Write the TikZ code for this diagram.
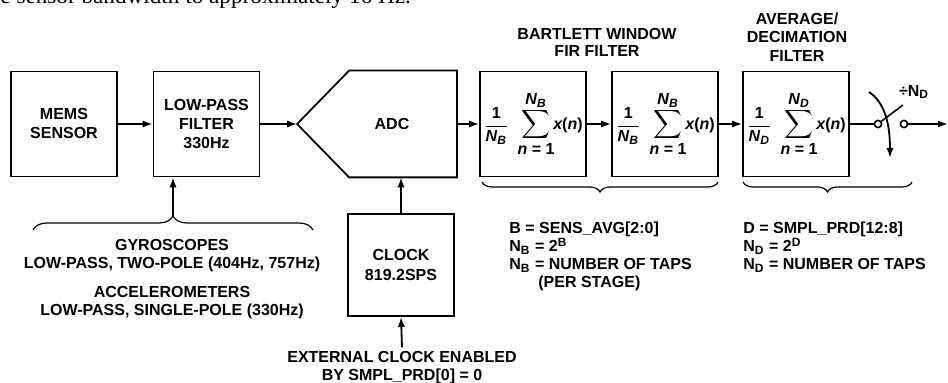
\documentclass[tikz,border=0pt]{standalone}
\usepackage{amsmath}
\usepackage{fontspec}
\setmainfont{Liberation Sans}
\newfontfamily\bodyserif{Liberation Serif}
\usetikzlibrary{arrows.meta,decorations.pathreplacing}

% 1/N sum x(n) block text
\newcommand{\bigsum}{\mathop{\text{\fontsize{10.3}{11}\selectfont$\displaystyle\sum$}}}
\newcommand{\avgsum}[1]{$\displaystyle\frac{\mbox{1}}{\textit{N}_{\textit{#1}}}\;\;
  \bigsum\limits^{\makebox[8pt]{\textit{N}\textsubscript{\textit{#1}}}}_{\makebox[8pt]{\textit{n} = 1}}
  \textit{x}\mbox{(}\textit{n}\mbox{)}$}

\tikzset{
  blk/.style={draw, line width=0.9pt, minimum width=53pt, minimum height=52.5pt,
    inner sep=0pt, align=center, font=\bfseries\fontsize{8}{9.5}\selectfont},
  lbl/.style={align=center, inner sep=0pt, font=\bfseries\fontsize{8}{9}\selectfont},
  sig/.style={line width=0.9pt, -{Latex[length=5pt,width=3.6pt]}},
  sw/.style={circle, draw, line width=0.8pt, inner sep=0pt, minimum size=3.6pt},
  brc/.style={decorate, decoration={brace, amplitude=#1}, line width=0.6pt},
  brc/.default=5pt,
}

\begin{document}
\begin{tikzpicture}[x=0.5pt, y=-0.5pt]
\useasboundingbox (0,0) rectangle (948,383);

% cut-off line of the page text
\node[anchor=base west, inner sep=0pt, font=\bodyserif\fontsize{11.6}{13}\selectfont] (prevline) at (0,3.5) {e sensor bandwidth to approximately 16 Hz.};

% signal chain
\node[blk] (mems) at (64,124) {MEMS\\SENSOR};
\node[blk] (lpf) at (206.5,124) {LOW-PASS\\FILTER\\330Hz};
\node[blk, draw=none, minimum width=79pt] (adc) at (377,124) {};
\draw[line width=0.9pt] (adc.west) -- ([xshift=26pt]adc.north west) -- (adc.north east)
  -- (adc.south east) -- ([xshift=26pt]adc.south west) -- cycle;
\node[lbl] (adctxt) at ([xshift=7.5pt]adc.center) {ADC};
\node[blk] (fira) at (533,124) {\avgsum{B}};
\node[blk] (firb) at (665,124) {\avgsum{B}};
\node[blk] (dec) at (796,124) {\avgsum{D}};

\draw[sig] (mems) -- (lpf);
\draw[sig] (lpf) -- (adc.west);
\draw[sig] (adc) -- (fira);
\draw[sig] (fira) -- (firb);
\draw[sig] (firb) -- (dec);

% titles
\node[lbl, font=\bfseries\fontsize{8}{8.5}\selectfont] (firttl) at (597,42) {BARTLETT WINDOW\\FIR FILTER};
\node[lbl, font=\bfseries\fontsize{8}{9.3}\selectfont] (decttl) at (797,37) {AVERAGE/\\DECIMATION\\FILTER};

% output switch
\node[sw] (swa) at (878,124) {};
\node[sw] (swb) at (904,124) {};
\coordinate (out) at (948,124);
\coordinate (levtip) at (903,105);
\coordinate (rota) at (869,92);
\coordinate (rotb) at (890,158);
\draw[line width=0.9pt] (dec) -- (swa);
\draw[sig] (swb) -- (out);
\draw[line width=0.8pt] (swa.40) -- (levtip);
\draw[sig] (rota) .. controls (884,102) and (890,122) .. (rotb);
\node[lbl] (divn) at (914,92) {÷N\textsubscript{D}};

% filter notes under LPF
\coordinate (gyrol) at (33,230);
\coordinate (gyror) at (313,230);
\coordinate (gyrotip) at (173,216);
\draw[brc=7pt] (gyrol) -- (gyror);
\draw[sig] (gyrotip) -- (gyrotip |- lpf.south);
\node[lbl] (gyro) at (172,256) {GYROSCOPES\\LOW-PASS, TWO-POLE (404Hz, 757Hz)};
\node[lbl] (accl) at (172,303) {ACCELEROMETERS\\LOW-PASS, SINGLE-POLE (330Hz)};

% clock
\node[blk, font=\bfseries\fontsize{8}{10}\selectfont, minimum height=51pt] (clk) at (401,265) {CLOCK\\819.2SPS};
\node[lbl] (ext) at (402,368) {EXTERNAL CLOCK ENABLED\\BY SMPL\_PRD[0] = 0};
\draw[sig] (clk.north) -- (clk.north |- adc.south);
\draw[sig] ([yshift=2pt]ext.north) -- (clk.south);

% notes under the filters
\coordinate (firbrl) at (482,182);
\coordinate (firbrr) at (718,182);
\coordinate (decbrl) at (743,182);
\coordinate (decbrr) at (912,182);
\draw[brc, decoration={mirror}] (firbrl) -- (firbrr);
\draw[brc, decoration={mirror}] (decbrl) -- (decbrr);
\node[lbl, align=left, anchor=north west] (firnote) at (509,222)
  {B = SENS\_AVG[2:0]\\N\textsubscript{B} = 2\textsuperscript{B}\\N\textsubscript{B} = NUMBER OF TAPS\\\hspace*{14.5pt}(PER STAGE)};
\node[lbl, align=left, anchor=north west] (decnote) at (743,222)
  {D = SMPL\_PRD[12:8]\\N\textsubscript{D} = 2\textsuperscript{D}\\N\textsubscript{D} = NUMBER OF TAPS};
\end{tikzpicture}
\end{document}
